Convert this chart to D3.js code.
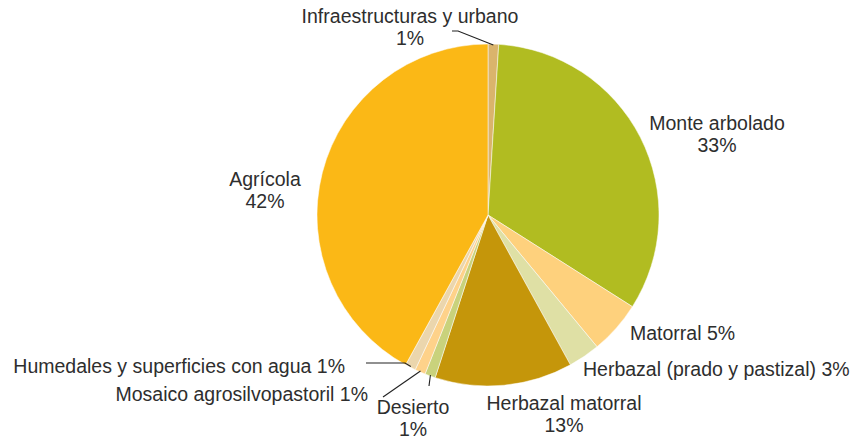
<!DOCTYPE html>
<html>
<head>
<meta charset="utf-8">
<script src="https://cdn.jsdelivr.net/npm/d3@7"></script>
<style>
  body { margin: 0; background: #fff; }
  text { font-family: "Liberation Sans", Arial, sans-serif; font-size: 19.5px; fill: #2e2e2e; }
</style>
</head>
<body>
<svg id="chart" width="854" height="439"></svg>
<script>
const width = 854, height = 439;
const svg = d3.select("#chart");

// data, clockwise from 12 o'clock
const categories = ["Infraestructuras y urbano", "Monte arbolado", "Matorral",
  "Herbazal (prado y pastizal)", "Herbazal matorral", "Desierto",
  "Mosaico agrosilvopastoril", "Humedales y superficies con agua", "Agrícola"];
const values = [1, 33, 5, 3, 13, 1, 1, 1, 42];
const colors = ["#dab46c", "#b1bc21", "#fed17d", "#dfe0a5", "#c5960a",
  "#c9d27c", "#fed28a", "#ebd6ad", "#fbb816"];

const cx = 488, cy = 215, r = 171;

const pie = d3.pie().sort(null).value(d => d.value);
const arc = d3.arc().innerRadius(0).outerRadius(r);
const data = categories.map((c, i) => ({ name: c, value: values[i], color: colors[i] }));
const arcs = pie(data);

const g = svg.append("g").attr("transform", `translate(${cx},${cy})`);

g.selectAll("path")
  .data(arcs)
  .enter().append("path")
  .attr("d", arc)
  .attr("fill", d => d.data.color)
  .attr("stroke", "#fff")
  .attr("stroke-width", 0.5);

// label placement (page coords)
const labelLayout = {
  "Infraestructuras y urbano": { x: 410, y: 23, anchor: "middle", two: true },
  "Monte arbolado": { x: 717, y: 130, anchor: "middle", two: true },
  "Matorral": { x: 630, y: 340, anchor: "start" },
  "Herbazal (prado y pastizal)": { x: 583, y: 376, anchor: "start" },
  "Herbazal matorral": { x: 564, y: 410, anchor: "middle", two: true },
  "Desierto": { x: 413, y: 414, anchor: "middle", two: true },
  "Mosaico agrosilvopastoril": { x: 368, y: 401, anchor: "end" },
  "Humedales y superficies con agua": { x: 345, y: 373, anchor: "end" },
  "Agrícola": { x: 265, y: 186, anchor: "middle", two: true }
};

// leader lines: bend points, last point goes to the slice edge
const leaders = {
  "Infraestructuras y urbano": [[452, 31], [458, 31]],
  "Desierto": [[429, 386]],
  "Mosaico agrosilvopastoril": [[383, 397]],
  "Humedales y superficies con agua": [[366, 363], [405, 363]]
};

const outer = d3.arc().innerRadius(r - 1).outerRadius(r - 1);

arcs.forEach(a => {
  const L = labelLayout[a.data.name];
  const t = svg.append("text")
    .attr("x", L.x).attr("y", L.y)
    .attr("text-anchor", L.anchor);
  if (L.two) {
    t.append("tspan").attr("x", L.x).text(a.data.name);
    t.append("tspan").attr("x", L.x).attr("dy", 22).text(a.data.value + "%");
  } else {
    t.text(a.data.name + " " + a.data.value + "%");
  }

  if (leaders[a.data.name]) {
    const c = outer.centroid(a);
    const pts = leaders[a.data.name].concat([[cx + c[0], cy + c[1]]]);
    svg.append("path")
      .attr("d", d3.line()(pts))
      .attr("fill", "none")
      .attr("stroke", "#222")
      .attr("stroke-width", 1.1);
  }
});
</script>
</body>
</html>
